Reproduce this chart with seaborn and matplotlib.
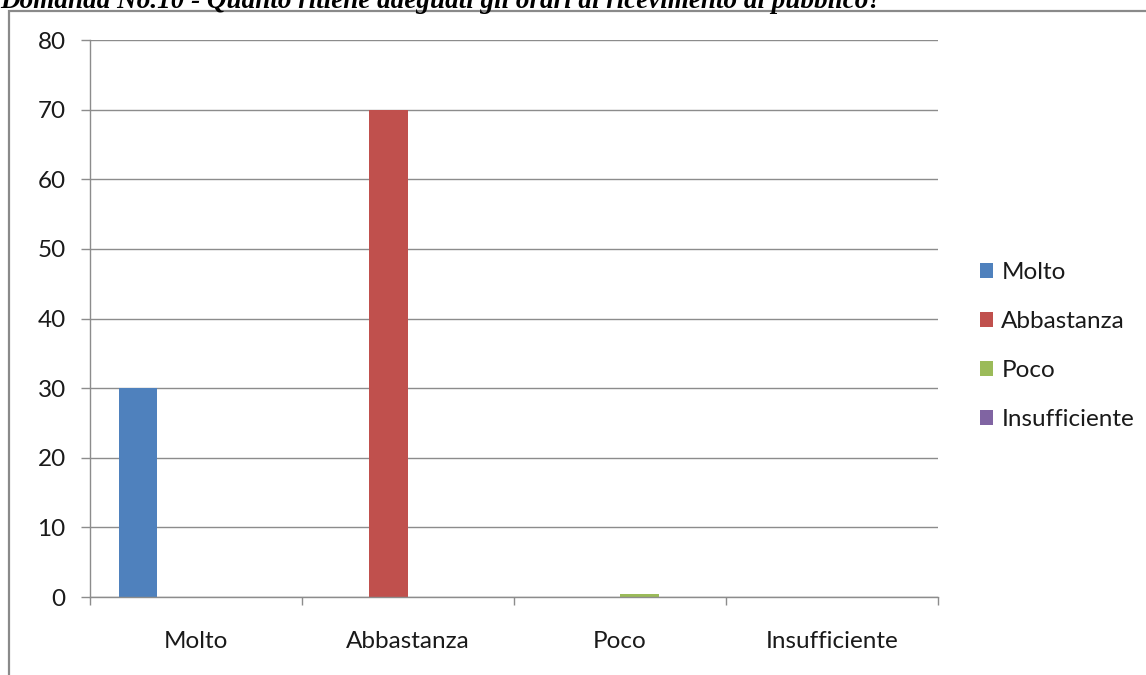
import matplotlib
matplotlib.use("Agg")
import matplotlib.pyplot as plt
from matplotlib.patches import Rectangle
import pandas as pd
import seaborn as sns

# Survey answers for question 10 (percentages)
categories = ["Molto", "Abbastanza", "Poco", "Insufficiente"]
values = [30, 70, 0.4, 0]
colors = ["#4F81BD", "#C0504D", "#9BBB59", "#8064A2"]
title = "Domanda No.10 - Quanto ritiene adeguati gli orari di ricevimento al pubblico?"
yticks = [0, 10, 20, 30, 40, 50, 60, 70, 80]

sns.set_theme(style="white")
plt.rcParams["font.family"] = ["Lato", "DejaVu Sans"]

df = pd.DataFrame({"risposta": categories, "valore": values})

fig = plt.figure(figsize=(11.46, 6.75), dpi=100)
ax = fig.add_axes([90 / 1146, 1 - 597 / 675, (938 - 90) / 1146, (597 - 40) / 675])

grid_col = "#8C8C8C"
text_col = "#1a1a1a"
fs = 17.5

sns.barplot(
    data=df, x="risposta", y="valore", hue="risposta",
    order=categories, hue_order=categories, palette=colors,
    dodge=True, width=0.727, errorbar=None, saturation=1,
    linewidth=0, ax=ax, legend=True,
)

ax.set_xlim(-0.5, 3.5)
ax.set_ylim(0, 80)
ax.set_yticks(yticks)
ax.set_xlabel("")
ax.set_ylabel("")

# horizontal gridlines behind bars
ax.set_axisbelow(True)
ax.yaxis.grid(True, color=grid_col, linewidth=1.0)
ax.xaxis.grid(False)

for side in ["top", "right"]:
    ax.spines[side].set_visible(False)
for side in ["left", "bottom"]:
    ax.spines[side].set_color(grid_col)
    ax.spines[side].set_linewidth(1.0)

ax.tick_params(axis="y", direction="out", length=6.5, width=1.0, color=grid_col,
               pad=11, labelsize=fs, labelcolor=text_col, left=True)
# category boundaries carry the tick marks, labels sit at group centres
ax.set_xticks([i - 0.5 for i in range(len(categories) + 1)], minor=True)
ax.tick_params(axis="x", which="minor", direction="out", length=6, width=1.0,
               color=grid_col, bottom=True)
ax.tick_params(axis="x", which="major", length=0, pad=24.5, labelsize=fs,
               labelcolor=text_col)

handles, labels = ax.get_legend_handles_labels()
leg = ax.legend(handles, labels, loc="center left",
                bbox_to_anchor=(968 / 1146, 1 - 346 / 675),
                bbox_transform=fig.transFigure, frameon=False,
                fontsize=fs, handlelength=0.54, handleheight=0.54,
                handletextpad=0.33, labelspacing=1.15, borderpad=0)
for t in leg.get_texts():
    t.set_color(text_col)

# outer chart frame, running off the right and bottom edges
fig.patches.append(Rectangle((9 / 1146, -0.1), 1.2, (1 - 11 / 675) + 0.1,
                             transform=fig.transFigure, fill=False,
                             edgecolor="#8A8A8A", linewidth=1.6))

fig.text(0, 1 - 8 / 675, title, ha="left", va="baseline",
         family="Liberation Serif", weight="bold", style="italic",
         fontsize=19.5, color="black")

fig.savefig("out.png", dpi=100)
